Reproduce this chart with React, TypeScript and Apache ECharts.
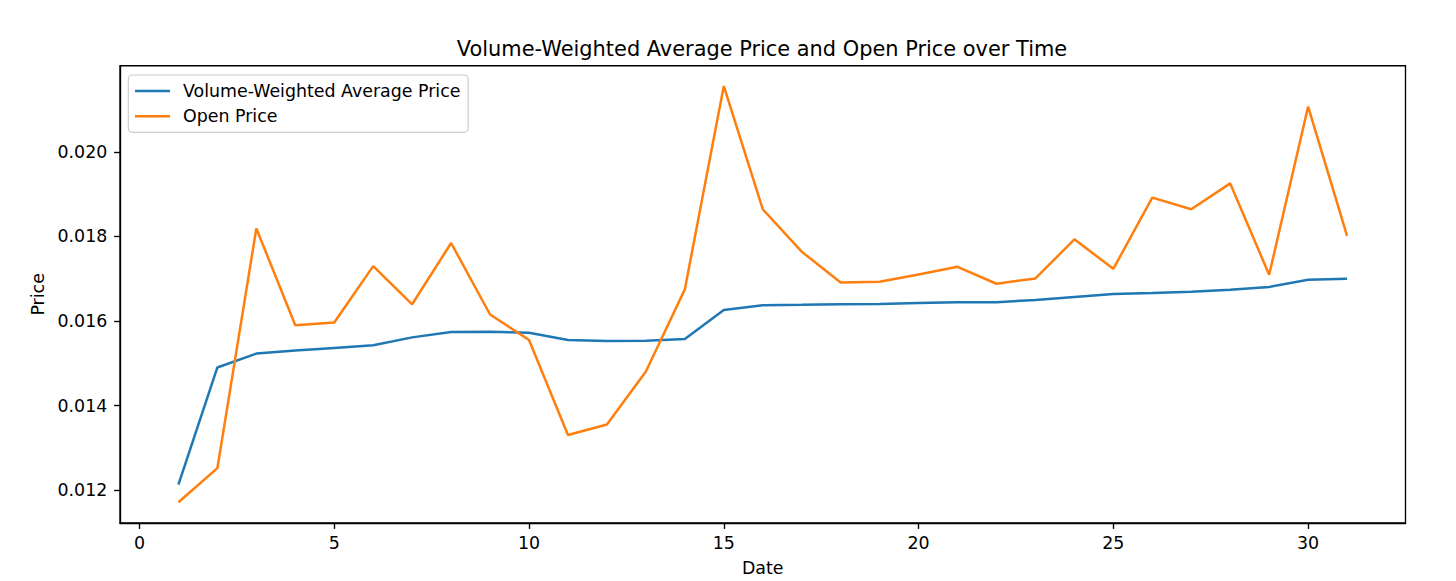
import React, { useEffect, useRef } from "react";
import * as echarts from "echarts";

const dates = [1, 2, 3, 4, 5, 6, 7, 8, 9, 10, 11, 12, 13, 14, 15, 16, 17, 18, 19, 20, 21, 22, 23, 24, 25, 26, 27, 28, 29, 30, 31];

const vwap = [
  0.012127, 0.0149, 0.015229, 0.0153, 0.015361, 0.015424, 0.015612, 0.015737, 0.015746, 0.015723,
  0.015549, 0.015525, 0.015535, 0.015572, 0.016259, 0.016371, 0.016381, 0.016395, 0.016404, 0.016428,
  0.016442, 0.016442, 0.016498, 0.016569, 0.016639, 0.016663, 0.016693, 0.01674, 0.016804, 0.016975,
  0.016999,
];

const openPrice = [
  0.011711, 0.012517, 0.01819, 0.015901, 0.015965, 0.017297, 0.016395, 0.017845, 0.016153, 0.015549,
  0.013302, 0.013551, 0.014806, 0.016747, 0.021558, 0.018644, 0.01764, 0.016912, 0.016928, 0.0171,
  0.017281, 0.016881, 0.017006, 0.017932, 0.017234, 0.018919, 0.018644, 0.019255, 0.017093, 0.021072,
  0.018016,
];

const xTicks = [0, 5, 10, 15, 20, 25, 30];
const yTicks = [0.012, 0.014, 0.016, 0.018, 0.02];

const seriesNames = ["Volume-Weighted Average Price", "Open Price"];
const titleText = "Volume-Weighted Average Price and Open Price over Time";

const FONT = "DejaVu Sans";
const FS = 17.4;

export default function App() {
  const ref = useRef<HTMLDivElement>(null);

  useEffect(() => {
    if (!ref.current) return;
    const chart = echarts.init(ref.current, undefined, { renderer: "svg" });
    const axisLineStyle = { color: "#000", width: 1.35 };
    chart.setOption({
      animation: false,
      backgroundColor: "#fff",
      grid: {
        left: 120,
        top: 65.7,
        width: 1285.5,
        height: 460.5,
        show: true,
        borderColor: "#000",
        borderWidth: 1.35,
        backgroundColor: "transparent",
      },
      graphic: [
        {
          type: "text",
          x: 762,
          y: 48.5,
          style: {
            text: titleText,
            fontFamily: FONT,
            fontSize: 20.9,
            fill: "#000",
            textAlign: "center",
            textVerticalAlign: "middle",
          },
        },
      ],
      legend: {
        orient: "vertical",
        left: 128.3,
        top: 75,
        padding: [7.4, 7.7, 7.6, 6.7],
        itemGap: 8.3,
        itemWidth: 35,
        itemHeight: 2.5,
        icon: "rect",
        borderColor: "#cccccc",
        borderWidth: 1.2,
        borderRadius: 4,
        backgroundColor: "rgba(255,255,255,0.8)",
        textStyle: {
          fontFamily: FONT,
          fontSize: FS,
          color: "#000",
          padding: [0, 0, 0, 8],
        },
        data: seriesNames,
      },
      xAxis: {
        type: "value",
        min: -0.5,
        max: 32.5,
        name: "Date",
        nameLocation: "middle",
        nameGap: 36,
        nameTextStyle: { fontFamily: FONT, fontSize: FS, color: "#000" },
        axisLine: { show: true, onZero: false, lineStyle: axisLineStyle },
        axisTick: { show: true, length: 5.9, lineStyle: axisLineStyle, customValues: xTicks },
        axisLabel: {
          fontFamily: FONT,
          fontSize: FS,
          color: "#000",
          margin: 11,
          customValues: xTicks,
          formatter: (v: number) => String(v),
        },
        splitLine: { show: false },
      },
      yAxis: {
        type: "value",
        min: 0.01122,
        max: 0.02204,
        name: "Price",
        nameLocation: "middle",
        nameGap: 68,
        nameRotate: 90,
        nameTextStyle: { fontFamily: FONT, fontSize: FS, color: "#000" },
        axisLine: { show: true, onZero: false, lineStyle: axisLineStyle },
        axisTick: { show: true, length: 5.9, lineStyle: axisLineStyle, customValues: yTicks },
        axisLabel: {
          fontFamily: FONT,
          fontSize: FS,
          color: "#000",
          margin: 12.7,
          customValues: yTicks,
          formatter: (v: number) => v.toFixed(3),
        },
        splitLine: { show: false },
      },
      series: [
        {
          name: seriesNames[0],
          type: "line",
          data: dates.map((d, i) => [d, vwap[i]]),
          symbol: "none",
          showSymbol: false,
          color: "#1f77b4",
          lineStyle: { color: "#1f77b4", width: 2.5 },
        },
        {
          name: seriesNames[1],
          type: "line",
          data: dates.map((d, i) => [d, openPrice[i]]),
          symbol: "none",
          showSymbol: false,
          color: "#ff7f0e",
          lineStyle: { color: "#ff7f0e", width: 2.5 },
        },
      ],
    });
    return () => chart.dispose();
  }, []);

  return (
    <div
      ref={ref}
      style={{ position: "fixed", left: 0, top: 0, width: 1456, height: 581 }}
    />
  );
}
